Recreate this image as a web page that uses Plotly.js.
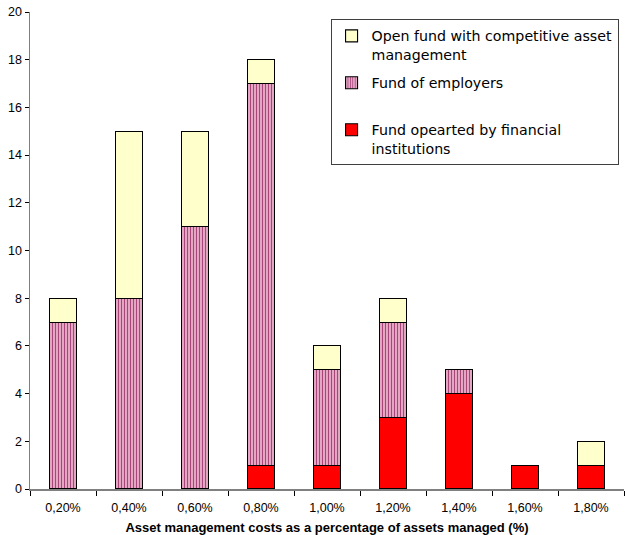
<!DOCTYPE html>
<html>
<head>
<meta charset="utf-8">
<script src="https://cdn.plot.ly/plotly-3.0.1.min.js"></script>
<style>html,body{margin:0;padding:0;background:#fff}#chart{width:625px;height:535px}</style>
</head>
<body>
<div id="chart"></div>
<script>
// Cost bands (share of assets managed)
const costBands = ["0,20%", "0,40%", "0,60%", "0,80%", "1,00%", "1,20%", "1,40%", "1,60%", "1,80%"];

// Number of funds per cost band, by fund type
const financialInstitutions = [0, 0, 0, 1, 1, 3, 4, 1, 1];
const employerFunds         = [7, 8, 11, 16, 4, 4, 1, 0, 0];
const openFunds             = [1, 7, 4, 1, 1, 1, 0, 0, 1];

const yTicks = [0, 2, 4, 6, 8, 10, 12, 14, 16, 18, 20];

// empty segments are left out so no outline is drawn for them
const skipZero = arr => arr.map(v => (v === 0 ? null : v));

const barOutline = {color: "#000000", width: 1.1};

const traces = [
  {
    type: "bar", name: "Fund opearted by financial<br>institutions",
    legendgroup: "fin", legendrank: 3,
    x: costBands, y: skipZero(financialInstitutions),
    marker: {color: "#ff0000", line: barOutline},
    width: 0.41
  },
  {
    type: "bar", name: "Fund of employers<br>&nbsp;",
    legendgroup: "emp", legendrank: 2,
    x: costBands, y: skipZero(employerFunds),
    marker: {
      color: "#e9a6c6", line: barOutline,
      pattern: {shape: "|", bgcolor: "#f0bcd4", fgcolor: "#a8467a", size: 3, solidity: 0.45, fillmode: "replace"}
    },
    width: 0.41
  },
  {
    type: "bar", name: "Open fund with competitive asset<br>management",
    legendgroup: "open", legendrank: 1,
    x: costBands, y: skipZero(openFunds),
    marker: {color: "#ffffcc", line: barOutline},
    width: 0.41
  }
];

const layout = {
  width: 625, height: 535,
  margin: {l: 30, r: 1, t: 12, b: 46},
  paper_bgcolor: "#ffffff", plot_bgcolor: "#ffffff",
  barmode: "stack",
  showlegend: true,
  font: {family: "Arial, 'Liberation Sans', sans-serif", size: 12.5, color: "#000000"},
  xaxis: {
    type: "category",
    showline: true, linecolor: "#808080", linewidth: 1.5,
    ticks: "outside", tickson: "boundaries", ticklen: 5, tickcolor: "#000000",
    ticklabelstandoff: 6,
    showgrid: false, zeroline: false,
    tickfont: {size: 12.5},
    title: {
      text: "<b>Asset management costs as a percentage of assets managed (%)</b>",
      font: {size: 13}, standoff: 12
    }
  },
  yaxis: {
    range: [0, 20], tickvals: yTicks, ticktext: yTicks.map(String),
    showline: true, linecolor: "#808080", linewidth: 1.5,
    ticks: "outside", ticklen: 4, tickcolor: "#000000",
    showgrid: false, zeroline: false,
    tickfont: {size: 12.5}
  },
  legend: {
    x: 0.506, y: 0.985, xanchor: "left", yanchor: "top",
    traceorder: "grouped", tracegroupgap: 7,
    bgcolor: "#ffffff", bordercolor: "#404040", borderwidth: 1,
    font: {family: "DejaVu Sans, Verdana, sans-serif", size: 14.2},
    valign: "top", itemwidth: 30
  }
};

Plotly.newPlot("chart", traces, layout, {displayModeBar: false, staticPlot: true});
</script>
</body>
</html>
